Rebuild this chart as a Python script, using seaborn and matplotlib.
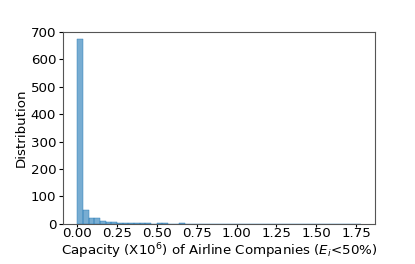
import numpy as np
import pandas as pd
import matplotlib
matplotlib.use("Agg")
import matplotlib.pyplot as plt
from matplotlib.ticker import MultipleLocator, FormatStrFormatter
import seaborn as sns

# histogram counts (50 bins from 0 to 1.78)
bin_lo = 0.0
bin_hi = 1.78
counts = [674, 51, 22, 21, 9, 8, 6, 5, 4, 4,
          3, 3, 2, 1, 2, 3, 1, 1, 2, 1,
          0, 0, 1, 0, 0, 0, 0, 1, 0, 0,
          0, 0, 0, 1, 0, 0, 0, 0, 0, 0,
          0, 0, 0, 0, 0, 0, 0, 0, 0, 1]

edges = np.linspace(bin_lo, bin_hi, len(counts) + 1)
centers = (edges[:-1] + edges[1:]) / 2
df = pd.DataFrame({"capacity": centers, "n": counts})

fig = plt.figure(figsize=(4.15, 2.64), dpi=100)
ax = fig.add_axes([0.152, 0.152, 0.752, 0.727])
sns.histplot(data=df, x="capacity", weights="n", bins=len(counts),
             binrange=(bin_lo, bin_hi), color="#1f77b4",
             alpha=0.6, edgecolor="#1f77b4", linewidth=0.3, ax=ax)

fs = 9.6
ax.set_ylim(0, 700)
ax.yaxis.set_major_locator(MultipleLocator(100))
ax.xaxis.set_major_locator(MultipleLocator(0.25))
ax.xaxis.set_major_formatter(FormatStrFormatter("%.2f"))
ax.set_xlabel(r"Capacity (X10$^6$) of Airline Companies ($E_i$<50%)", fontsize=fs, labelpad=1)
ax.set_ylabel("Distribution", fontsize=fs, labelpad=2)
ax.tick_params(axis="y", labelsize=fs, length=3, pad=2)
ax.tick_params(axis="x", labelsize=fs, length=2, pad=0.5)
for s in ax.spines.values():
    s.set_color("#555555")

fig.savefig("out.png", dpi=100)
